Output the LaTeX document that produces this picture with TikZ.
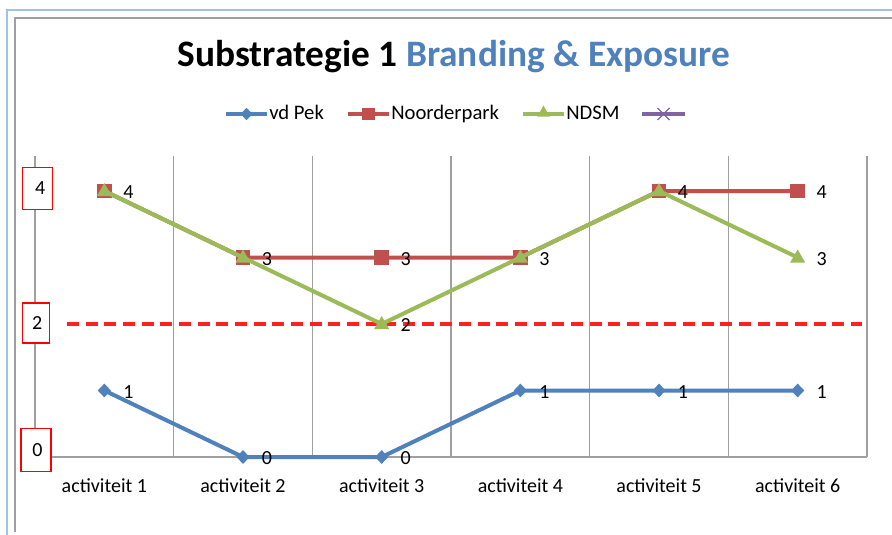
\documentclass[tikz,border=0pt]{standalone}
\usepackage{fontspec}
\setmainfont{Carlito}
\usetikzlibrary{shapes.geometric}
\definecolor{cblue}{HTML}{4F81BD}
\definecolor{cred}{HTML}{C0504D}
\definecolor{cgreen}{HTML}{9BBB59}
\definecolor{cpurple}{HTML}{8064A2}
\definecolor{framebl}{HTML}{9DC3E6}
\definecolor{gridg}{HTML}{A0A0A0}
\definecolor{dashred}{HTML}{FF2020}
\tikzset{
  grid line/.style={draw=gridg, line width=1.1pt},
  serie/.style={line width=3pt, line join=round},
  dmark/.style={diamond, fill=cblue, draw=none, inner sep=0pt, minimum width=10pt, minimum height=10.5pt},
  smark/.style={rectangle, fill=cred, draw=none, inner sep=0pt, minimum size=11pt},
  tmark/.style={regular polygon, regular polygon sides=3, fill=cgreen, draw=none, inner sep=0pt, minimum size=13pt},
  vlabel/.style={anchor=west, font=\fontsize{15}{18}\selectfont, inner sep=0pt, yshift=-1pt},
  catlabel/.style={font=\fontsize{15}{18}\selectfont, inner sep=0pt},
  axbox/.style={draw=red, line width=0.8pt, fill=white, inner sep=0pt, font=\fontsize{15}{18}\selectfont},
  legtext/.style={anchor=base west, font=\fontsize{15.5}{18}\selectfont, inner sep=0pt},
}
\begin{document}
\begin{tikzpicture}[x=0.75pt, y=-0.75pt]
\useasboundingbox (0,0) rectangle (892,535);
\fill[white] (0,0) rectangle (892,535);
% frames
\draw[framebl, line width=1.5pt] (7,535) -- (7,10) -- (892,10);
\draw[gridg, line width=1.5pt] (15,532) -- (15,18) -- (892,18);
% title
\node[anchor=base, inner sep=0pt, font=\fontsize{28}{30}\selectfont\bfseries] (title) at (454,67)
  {Substrategie 1 \textcolor{cblue}{Branding \& Exposure}};
% legend
\coordinate (l1a) at (226,114); \coordinate (l1b) at (267,114);
\draw[serie, cblue] (l1a) -- (l1b);
\node[dmark, minimum width=9pt, minimum height=9.5pt] (l1m) at (246.5,114) {};
\node[legtext] (l1t) at (269,119) {vd Pek};
\coordinate (l2a) at (348,114); \coordinate (l2b) at (389,114);
\draw[serie, cred] (l2a) -- (l2b);
\node[smark, minimum size=9.5pt] (l2m) at (368.5,114) {};
\node[legtext] (l2t) at (391,119) {Noorderpark};
\coordinate (l3a) at (523,114); \coordinate (l3b) at (564,114);
\draw[serie, cgreen] (l3a) -- (l3b);
\node[tmark, minimum size=11pt] (l3m) at (543.5,113) {};
\node[legtext] (l3t) at (566,119) {NDSM};
\coordinate (l4a) at (642,114); \coordinate (l4b) at (685,114);
\draw[serie, cpurple] (l4a) -- (l4b);
\coordinate (l4c) at (663.5,114);
\draw[cpurple, line width=0.9pt] ([shift={(-6,-6)}]l4c) -- ([shift={(6,6)}]l4c)
  ([shift={(-6,6)}]l4c) -- ([shift={(6,-6)}]l4c);
% grid
\foreach \i in {0,...,6} {
  \pgfmathsetmacro{\gx}{35+138.67*\i}
  \coordinate (gt\i) at (\gx,156);
  \coordinate (gb\i) at (\gx,457);
  \draw[grid line] (gt\i) -- (gb\i);
}
\draw[grid line] (gb0) -- (gb6);
% threshold
\coordinate (da) at (67,324); \coordinate (db) at (862,324);
\draw[dashred, line width=2.4pt, dash pattern=on 9pt off 5pt] (da) -- (db);
% axis labels
\node[axbox, minimum width=22pt, minimum height=32pt] (y4) at (37.5,188.5) {\hspace*{4pt}4};
\node[axbox, minimum width=20.5pt, minimum height=30pt] (y2) at (35.8,323) {\hspace*{2pt}2};
\node[axbox, minimum width=22.5pt, minimum height=32pt] (y0) at (36,450) {\hspace*{2pt}0};
% data coordinates
\foreach \i/\b/\r/\g in {1/1/4/4, 2/0/3/3, 3/0/3/2, 4/1/3/3, 5/1/4/4, 6/1/4/3} {
  \pgfmathsetmacro{\cx}{35+138.67*(\i-0.5)}
  \coordinate (b\i) at (\cx,{457-66.5*\b});
  \coordinate (r\i) at (\cx,{457-66.5*\r});
  \coordinate (g\i) at (\cx,{457-66.5*\g});
  \node[catlabel] (cat\i) at (\cx,486) {activiteit \i};
}
% series
\draw[serie, cred] (r1) -- (r2) -- (r3) -- (r4) -- (r5) -- (r6);
\foreach \i in {1,...,6} \node[smark] (rm\i) at (r\i) {};
\draw[serie, cgreen] (g1) -- (g2) -- (g3) -- (g4) -- (g5) -- (g6);
\foreach \i in {1,...,6} \node[tmark] (gm\i) at ([yshift=-0.5pt]g\i) {};
\draw[serie, cblue] (b1) -- (b2) -- (b3) -- (b4) -- (b5) -- (b6);
\foreach \i in {1,...,6} \node[dmark] (bm\i) at (b\i) {};
% value labels
\node[vlabel] (vr1) at ([xshift=14pt]r1) {4};
\node[vlabel] (vr2) at ([xshift=14pt]r2) {3};
\node[vlabel] (vr3) at ([xshift=14pt]r3) {3};
\node[vlabel] (vr4) at ([xshift=14pt]r4) {3};
\node[vlabel] (vr5) at ([xshift=14pt]r5) {4};
\node[vlabel] (vr6) at ([xshift=14pt]r6) {4};
\node[vlabel] (vg3) at ([xshift=14pt]g3) {2};
\node[vlabel] (vg6) at ([xshift=14pt]g6) {3};
\foreach \i/\v in {1/1,2/0,3/0,4/1,5/1,6/1} \node[vlabel] (vb\i) at ([xshift=14pt]b\i) {\v};
\end{tikzpicture}
\end{document}
